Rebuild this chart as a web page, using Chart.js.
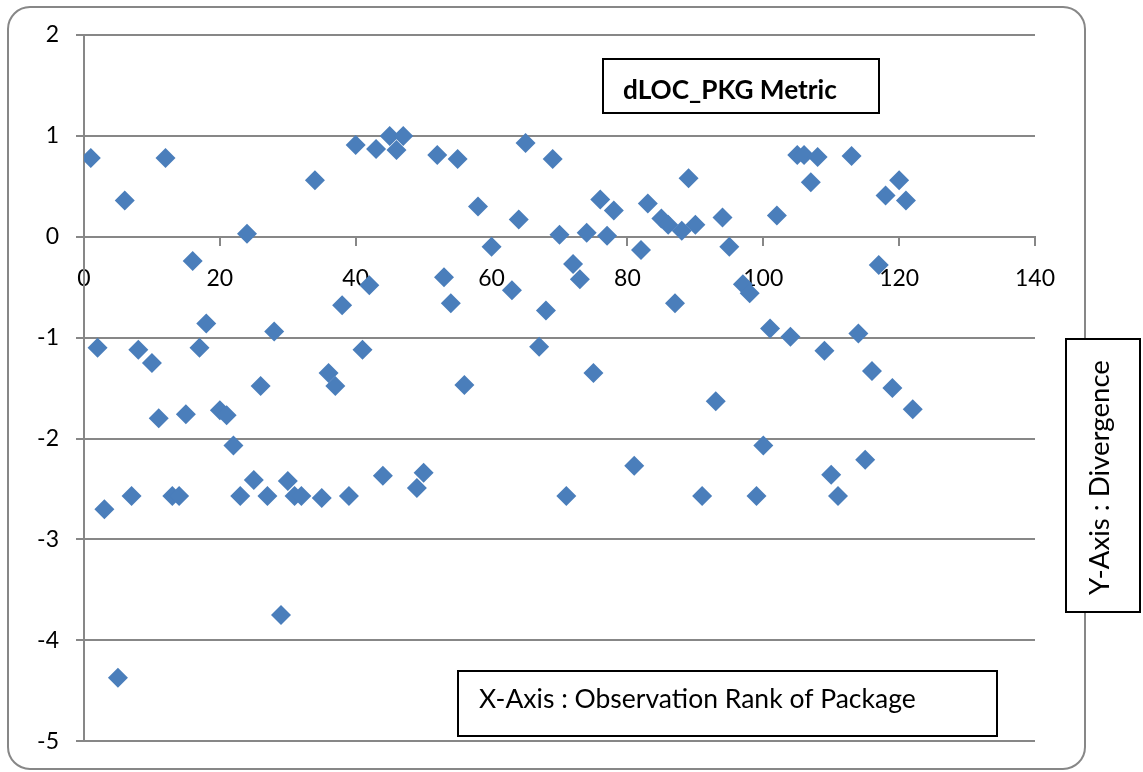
<!DOCTYPE html>
<html>
<head>
<meta charset="utf-8">
<script src="https://cdn.jsdelivr.net/npm/chart.js@4.4.1/dist/chart.umd.min.js"></script>
<style>
  body { margin: 0; background: #fff; }
  #wrap { width: 1143px; height: 772px; position: relative; }
</style>
</head>
<body>
<div id="wrap"><canvas id="divChart"></canvas></div>
<script>
// observation rank of package (x) and divergence (y)
const ranks = [1, 2, 3, 5, 6, 7, 8, 10, 11, 12, 13, 14, 15, 16, 17, 18, 20, 21, 22, 23, 24, 25, 26, 27, 28, 29, 30, 31, 32,
    34, 35, 36, 37, 38, 39, 40, 41, 42, 43, 44, 45, 46, 47, 49, 50, 52, 53, 54, 55, 56, 58, 60, 63, 64, 65, 67, 68, 69,
    70, 71, 72, 73, 74, 75, 76, 77, 78, 81, 82, 83, 85, 86, 87, 88, 89, 90, 91, 93, 94, 95, 97, 98, 99, 100, 101, 102,
    104, 105, 106, 107, 108, 109, 110, 111, 113, 114, 115, 116, 117, 118, 119, 120, 121, 122];
const divergence = [0.78, -1.10, -2.70, -4.37, 0.36, -2.57, -1.12, -1.25, -1.80, 0.78, -2.57, -2.57, -1.76, -0.24, -1.10,
    -0.86, -1.72, -1.77, -2.07, -2.57, 0.03, -2.41, -1.48, -2.57, -0.94, -3.75, -2.42, -2.57, -2.57,
    0.56, -2.59, -1.35, -1.48, -0.68, -2.57, 0.91, -1.12, -0.48, 0.87, -2.37, 1.00, 0.86, 1.00, -2.49, -2.34, 0.81, -0.40,
    -0.66, 0.77, -1.47, 0.30, -0.10, -0.53, 0.17, 0.93, -1.09, -0.73, 0.77,
    0.02, -2.57, -0.27, -0.42, 0.04, -1.35, 0.37, 0.01, 0.26, -2.27, -0.13, 0.33, 0.18, 0.12, -0.66, 0.06, 0.58, 0.12, -2.57,
    -1.63, 0.19, -0.10, -0.47, -0.56, -2.57, -2.07, -0.91, 0.21,
    -0.99, 0.81, 0.81, 0.54, 0.79, -1.13, -2.36, -2.57, 0.80, -0.96, -2.21, -1.33, -0.28, 0.41, -1.50, 0.56, 0.36, -1.71];

const xTicks = [0, 20, 40, 60, 80, 100, 120, 140];
const yTicks = [2, 1, 0, -1, -2, -3, -4, -5];

const chartTitle = 'dLOC_PKG Metric';
const xLabel = 'X-Axis : Observation Rank of Package';
const yLabel = 'Y-Axis : Divergence';

const FONT = 'Lato, "Open Sans", sans-serif';
const GRID = '#878787';

// fit text into a target width by scaling the font
function fitFont(ctx, text, weight, width) {
    ctx.font = weight + ' 20px ' + FONT;
    const w = ctx.measureText(text).width;
    return 20 * width / w;
}

// frame and the three text boxes (drawn like the Excel text boxes)
const decor = {
    id: 'decor',
    beforeDraw(chart) {
        const ctx = chart.ctx;
        ctx.save();
        ctx.fillStyle = '#fff';
        ctx.fillRect(0, 0, chart.width, chart.height);
        ctx.strokeStyle = GRID;
        ctx.lineWidth = 2;
        ctx.beginPath();
        ctx.roundRect(8, 7, 1077, 762, 22);
        ctx.stroke();
        ctx.restore();
    },
    afterDraw(chart) {
        const ctx = chart.ctx;
        ctx.save();
        ctx.lineWidth = 2;
        ctx.strokeStyle = '#000';
        ctx.fillStyle = '#fff';

        // title box
        ctx.fillRect(603, 59, 276, 54);
        ctx.strokeRect(603, 59, 276, 54);
        let fs = fitFont(ctx, chartTitle, 'bold', 214);
        ctx.font = 'bold ' + fs + 'px ' + FONT;
        ctx.fillStyle = '#000';
        ctx.textBaseline = 'alphabetic';
        ctx.textAlign = 'left';
        ctx.fillText(chartTitle, 623, 99);

        // x label box
        ctx.fillStyle = '#fff';
        ctx.fillRect(458, 671, 539, 65);
        ctx.strokeRect(458, 671, 539, 65);
        fs = fitFont(ctx, xLabel, 'normal', 437);
        ctx.font = fs + 'px ' + FONT;
        ctx.fillStyle = '#000';
        ctx.fillText(xLabel, 479, 708);

        // y label box
        ctx.fillStyle = '#fff';
        ctx.fillRect(1066, 339, 74, 273);
        ctx.strokeRect(1066, 339, 74, 273);
        fs = fitFont(ctx, yLabel, 'normal', 235);
        ctx.translate(1109, 595);
        ctx.rotate(-Math.PI / 2);
        ctx.font = fs + 'px ' + FONT;
        ctx.fillStyle = '#000';
        ctx.fillText(yLabel, 0, 0);
        ctx.restore();
    }
};

const ctx = document.getElementById('divChart').getContext('2d');
const chart = new Chart(ctx, {
    type: 'scatter',
    data: {
        datasets: [{
            data: ranks.map((r, i) => ({ x: r, y: divergence[i] })),
            pointStyle: 'rectRot',
            pointRadius: 10,
            pointHoverRadius: 10,
            backgroundColor: '#4A7EBB',
            borderColor: '#4A7EBB',
            borderWidth: 0
        }]
    },
    options: {
        responsive: true,
        maintainAspectRatio: false,
        animation: false,
        layout: { padding: { left: 0, top: 35, right: 108, bottom: 30 } },
        scales: {
            x: {
                type: 'linear',
                position: { y: 0 },
                min: 0,
                max: 140,
                afterBuildTicks: s => { s.ticks = xTicks.map(v => ({ value: v })); },
                ticks: { color: '#000', font: { family: FONT, size: 23 }, padding: 20, maxRotation: 0 },
                grid: { drawOnChartArea: false, drawTicks: true, tickLength: 8, color: GRID, lineWidth: 2 },
                border: { display: true, color: GRID, width: 2 }
            },
            y: {
                min: -5,
                max: 2,
                afterBuildTicks: s => { s.ticks = yTicks.map(v => ({ value: v })); },
                afterFit: s => { s.width = 84; },
                ticks: { color: '#000', font: { family: FONT, size: 23 }, padding: 17 },
                grid: { color: GRID, lineWidth: 2, tickLength: 8 },
                border: { display: true, color: GRID, width: 2 }
            }
        },
        plugins: {
            legend: { display: false },
            tooltip: { enabled: false }
        }
    },
    plugins: [decor]
});
</script>
</body>
</html>
